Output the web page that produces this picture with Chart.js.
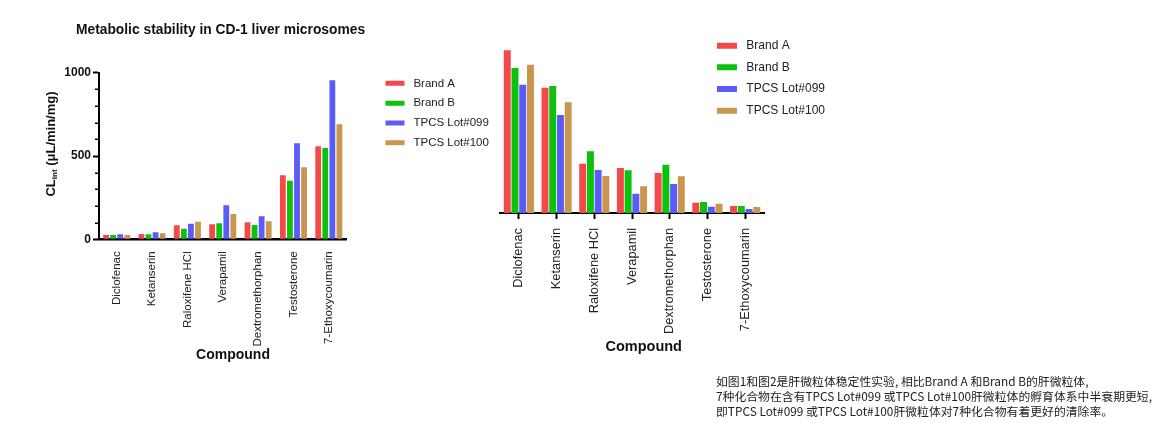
<!DOCTYPE html>
<html>
<head>
<meta charset="utf-8">
<script src="https://cdn.jsdelivr.net/npm/chart.js@4.4.1/dist/chart.umd.min.js"></script>
<style>
  body { margin: 0; background: #fff; width: 1163px; height: 423px; position: relative; overflow: hidden; }
  .box { position: absolute; top: 0; height: 423px; }
  #left { left: 0; width: 490px; }
  #right { left: 490px; width: 673px; }
  #note { position: absolute; left: 716px; top: 373px; font: 11.85px/15px "Noto Sans CJK SC", sans-serif; color: #222; white-space: nowrap; }
</style>
</head>
<body>
<div class="box" id="left"><canvas id="chartLeft"></canvas></div>
<div class="box" id="right"><canvas id="chartRight"></canvas></div>
<div id="note">如图1和图2是肝微粒体稳定性实验, 相比Brand A 和Brand B的肝微粒体,<br>7种化合物在含有TPCS Lot#099 或TPCS Lot#100肝微粒体的孵育体系中半衰期更短,<br>即TPCS Lot#099 或TPCS Lot#100肝微粒体对7种化合物有着更好的清除率。</div>
<script>
const compounds = ["Diclofenac", "Ketanserin", "Raloxifene HCl", "Verapamil", "Dextromethorphan", "Testosterone", "7-Ethoxycoumarin"];
const seriesNames = ["Brand A", "Brand B", "TPCS Lot#099", "TPCS Lot#100"];
const seriesColors = ["#f54848", "#0cc20c", "#5b5bf7", "#c9964f"];

// figure 1 - CLint (uL/min/mg)
const clintBrandA = [26, 32, 84, 90, 102, 384, 558];
const clintBrandB = [26, 30, 64, 96, 86, 352, 548];
const clintLot099 = [30, 42, 94, 204, 138, 576, 954];
const clintLot100 = [26, 36, 106, 152, 108, 432, 690];
const clintMax = 1000;
const clintStep = 500;
const clintMinorStep = 100;

// figure 2 - no y axis shown, relative bar heights
const relBrandA = [488, 376, 148, 135, 120, 31, 21];
const relBrandB = [435, 381, 185, 128, 145, 33, 21];
const relLot099 = [385, 294, 129, 58, 87, 19, 12];
const relLot100 = [445, 332, 111, 80, 110, 28, 18];
const relMax = 500;

const FAMILY = '"Liberation Sans", Arial, Helvetica, sans-serif';
Chart.defaults.font.family = FAMILY;
Chart.defaults.color = "#222";

function makeDatasets(series, barPct, catPct) {
  return series.map((data, i) => ({
    label: seriesNames[i],
    data: data,
    backgroundColor: seriesColors[i],
    borderWidth: 0,
    barPercentage: barPct,
    categoryPercentage: catPct
  }));
}

// legend labels with a little more room after the swatch
function spacedLabels(chart) {
  return Chart.defaults.plugins.legend.labels.generateLabels(chart).map(l => {
    l.text = " " + l.text;
    return l;
  });
}

// move the legend to a fixed spot (it is laid out inside the chart area)
function legendAt(left, top) {
  return {
    id: "legendAt",
    afterLayout(chart) {
      const lg = chart.legend;
      lg.left = left;
      lg.top = top;
      lg.right = left + lg.width;
      lg.bottom = top + lg.height;
    }
  };
}

// free text: titles, axis titles with subscript
function textLayer(items) {
  return {
    id: "textLayer",
    afterDraw(chart) {
      const ctx = chart.ctx;
      items.forEach(it => {
        ctx.save();
        ctx.translate(it.x, it.y);
        if (it.rotate) ctx.rotate(it.rotate);
        ctx.fillStyle = "#111";
        ctx.textBaseline = "middle";
        ctx.textAlign = "left";
        const widths = it.parts.map(p => {
          ctx.font = "bold " + p[1] + "px " + FAMILY;
          return ctx.measureText(p[0]).width;
        });
        const total = widths.reduce((a, b) => a + b, 0);
        let x = it.align === "left" ? 0 : -total / 2;
        it.parts.forEach((p, i) => {
          ctx.font = "bold " + p[1] + "px " + FAMILY;
          ctx.fillText(p[0], x, p[2] || 0);
          x += widths[i];
        });
        ctx.restore();
      });
    }
  };
}

const minorTicks = {
  id: "minorTicks",
  afterDraw(chart) {
    const ctx = chart.ctx;
    const y = chart.scales.y;
    const x0 = chart.chartArea.left;
    ctx.save();
    ctx.strokeStyle = "#000";
    ctx.lineWidth = 1.5;
    for (let v = clintMinorStep; v < clintMax; v += clintMinorStep) {
      if (v % clintStep === 0) continue;
      const py = Math.round(y.getPixelForValue(v)) + 0.25;
      ctx.beginPath();
      ctx.moveTo(x0 - 4, py);
      ctx.lineTo(x0, py);
      ctx.stroke();
    }
    ctx.restore();
  }
};

// LEFT – Metabolic stability in CD-1 liver microsomes
new Chart(document.getElementById("chartLeft"), {
  type: "bar",
  data: {
    labels: compounds,
    datasets: makeDatasets([clintBrandA, clintBrandB, clintLot099, clintLot100], 0.82, 0.8)
  },
  options: {
    responsive: true,
    maintainAspectRatio: false,
    animation: false,
    layout: { padding: { left: 0, right: 143.5, top: 72.7, bottom: 0 } },
    plugins: {
      tooltip: { enabled: false },
      legend: {
        position: "chartArea",
        align: "start",
        labels: { boxWidth: 19, boxHeight: 5, padding: 8.3, color: "#222", font: { size: 11.5 }, generateLabels: spacedLabels }
      }
    },
    scales: {
      x: {
        grid: { display: false, drawTicks: false },
        border: { display: true, color: "#000", width: 2.5 },
        ticks: { autoSkip: false, minRotation: 90, maxRotation: 90, padding: 12, color: "#222", font: { size: 11.5 } },
        afterFit: s => { s.height = 423 - 239.3; }
      },
      y: {
        min: 0,
        max: clintMax,
        grid: { display: true, drawOnChartArea: false, drawTicks: true, tickLength: 6, tickColor: "#000", tickWidth: 2 },
        border: { display: true, color: "#000", width: 2 },
        ticks: { stepSize: clintStep, padding: 2, color: "#111", font: { size: 12, weight: "bold" }, callback: v => String(v) },
        afterFit: s => { s.width = 99; }
      }
    }
  },
  plugins: [
    legendAt(377.2, 69.3),
    minorTicks,
    textLayer([
      { x: 76, y: 30, align: "left", parts: [["Metabolic stability in CD-1 liver microsomes", 13.8]] },
      { x: 51.5, y: 144, rotate: -Math.PI / 2, parts: [["CL", 13], ["int", 8, 3], [" (\u03bcL/min/mg)", 13]] },
      { x: 233, y: 355, parts: [["Compound", 14]] }
    ])
  ]
});

// RIGHT – same compounds, second figure
new Chart(document.getElementById("chartRight"), {
  type: "bar",
  data: {
    labels: compounds,
    datasets: makeDatasets([relBrandA, relBrandB, relLot099, relLot100], 0.9, 0.82)
  },
  options: {
    responsive: true,
    maintainAspectRatio: false,
    animation: false,
    layout: { padding: { left: 10, right: 399, top: 46.3, bottom: 0 } },
    plugins: {
      tooltip: { enabled: false },
      legend: {
        position: "chartArea",
        align: "start",
        labels: { boxWidth: 20, boxHeight: 6, padding: 9.67, color: "#222", font: { size: 12 }, generateLabels: spacedLabels }
      }
    },
    scales: {
      x: {
        grid: { display: true, offset: false, drawOnChartArea: false, drawTicks: true, tickLength: 6, tickColor: "#000", tickWidth: 2 },
        border: { display: true, color: "#000", width: 2 },
        ticks: { autoSkip: false, minRotation: 90, maxRotation: 90, padding: 9, color: "#222", font: { size: 12.8 } },
        afterFit: s => { s.height = 423 - 213; }
      },
      y: { display: false, min: 0, max: relMax }
    }
  },
  plugins: [
    legendAt(217.3, 30),
    textLayer([
      { x: 153.7, y: 346.7, parts: [["Compound", 14.5]] }
    ])
  ]
});
</script>
</body>
</html>
